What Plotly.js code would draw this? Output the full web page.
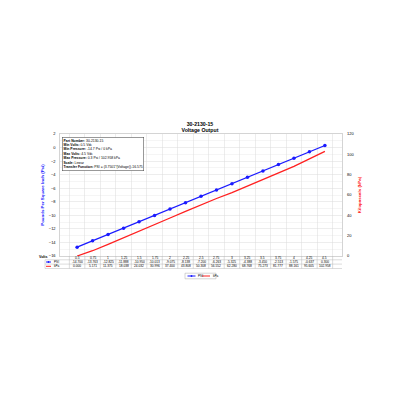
<!DOCTYPE html>
<html>
<head>
<meta charset="utf-8">
<script src="https://cdn.plot.ly/plotly-3.0.1.min.js"></script>
<style>
  html, body { margin: 0; padding: 0; background: #fff; }
  #chart { width: 400px; height: 400px; }
</style>
</head>
<body>
<div id="chart"></div>
<script>
// Data
var volts = ['0.5', '0.75', '1', '1.25', '1.5', '1.75', '2', '2.25', '2.5', '2.75', '3', '3.25', '3.5', '3.75', '4', '4.25', '4.5'];
var psi = [-14.700, -13.763, -12.825, -11.888, -10.950, -10.013, -9.075, -8.138, -7.200, -6.263, -5.325, -4.388, -3.450, -2.513, -1.575, -0.637, 0.300];
var kpa = [0.000, 5.171, 11.375, 18.038, 24.032, 30.996, 37.400, 43.808, 50.308, 56.552, 62.280, 68.768, 75.273, 81.777, 88.161, 95.605, 102.958];
var seriesNames = ['PSI', 'kPa'];
var infoLines = [
  ['Part Number', '30-2130-15'],
  ['Min Volts', '0.5 Vdc'],
  ['Min Pressure', '-14.7 Psi / 0 kPa'],
  ['Max Volts', '4.5 Vdc'],
  ['Max Pressure', '0.3 Psi / 102.958 kPa'],
  ['Scale', 'Linear'],
  ['Transfer Function', 'PSI = (3.7501*(Voltage))-16.575']
];

var FONT = 'Liberation Sans, Arial, sans-serif';
var BLUE = '#1a1aff';
var RED = '#ff2020';
var GRID = '#dcdcdc';
var TBL = '#b8b8b8';

// plot box in pixels
var W = 400, H = 400;
var L = 60, R = 58, T = 134, B = 144;
var plotW = W - L - R, plotH = H - T - B;
function px(x) { return (x - L) / plotW; }      // pixel -> paper x
function py(y) { return (H - B - y) / plotH; }  // pixel -> paper y

var traces = [
  {
    x: volts, y: psi, name: seriesNames[0], type: 'scatter', mode: 'lines+markers',
    line: {color: BLUE, width: 1.3},
    marker: {color: BLUE, size: 3.5, symbol: 'circle'},
    yaxis: 'y'
  },
  {
    x: volts, y: kpa, name: seriesNames[1], type: 'scatter', mode: 'lines',
    line: {color: RED, width: 1.3},
    yaxis: 'y2'
  }
];

var annotations = [];
var shapes = [];

function line(x0, y0, x1, y1, color, width) {
  shapes.push({type: 'line', xref: 'paper', yref: 'paper', x0: px(x0), x1: px(x1),
    y0: py(y0), y1: py(y1), line: {color: color, width: width}});
}
function dot(x, y, color) {
  shapes.push({type: 'circle', xref: 'paper', yref: 'paper', x0: px(x - 0.9), x1: px(x + 0.9),
    y0: py(y - 0.9), y1: py(y + 0.9), fillcolor: color, line: {width: 0}});
}
function label(x, y, text, size, anchor) {
  annotations.push({xref: 'paper', yref: 'paper', x: px(x), y: py(y), xanchor: anchor || 'left',
    yanchor: 'middle', showarrow: false, text: text, font: {family: FONT, size: size, color: '#000'}});
}

// info box
var infoText = infoLines.map(function (p) { return '<b>' + p[0] + ':</b> ' + p[1]; }).join('<br>');
annotations.push({
  xref: 'paper', yref: 'paper', x: px(61.5), y: py(136.5),
  xanchor: 'left', yanchor: 'top', align: 'left', showarrow: false,
  text: infoText, font: {family: FONT, size: 3.4, color: '#000'},
  bgcolor: '#fff', bordercolor: '#555', borderwidth: 0.6, borderpad: 1
});

// data table rows under the plot
var rowY = [257.8, 262.0, 266.3];
var rowLines = [259.8, 264.1, 268.5];
var tableLeft = 45;

for (var i = 0; i < volts.length; i++) {
  [volts[i], psi[i].toFixed(3), kpa[i].toFixed(3)].forEach(function (t, r) {
    annotations.push({xref: 'x', yref: 'paper', x: i, y: py(rowY[r]), text: t, showarrow: false,
      font: {family: FONT, size: 3.2, color: '#000'}, yanchor: 'middle'});
  });
}
for (var j = 0; j <= volts.length; j++) {
  shapes.push({type: 'line', xref: 'x', yref: 'paper', x0: j - 0.5, x1: j - 0.5,
    y0: 0, y1: py(rowLines[2]), line: {color: TBL, width: 0.5}});
}
rowLines.forEach(function (y) { line(tableLeft, y, W - R, y, TBL, 0.5); });
line(tableLeft, rowLines[0], tableLeft, rowLines[2], TBL, 0.5);

// row labels
label(50, rowY[0] - 0.6, '<b>Volts</b>', 3.6, 'right');
[[rowY[1], BLUE, seriesNames[0], true], [rowY[2], RED, seriesNames[1], false]].forEach(function (r) {
  line(46, r[0], 51, r[0], r[1], 1);
  if (r[3]) dot(48.5, r[0], r[1]);
  label(51.8, r[0], r[2], 3.1);
});

// legend below the table
var legY = 276;
shapes.push({type: 'rect', xref: 'paper', yref: 'paper', x0: px(185), x1: px(216),
  y0: py(legY - 2.8), y1: py(legY + 2.8), line: {color: '#aaa', width: 0.5}, fillcolor: 'rgba(0,0,0,0)'});
line(187.5, legY, 195.5, legY, BLUE, 1);
dot(191.5, legY, BLUE);
label(196.3, legY, seriesNames[0], 3.1);
line(202, legY, 210, legY, RED, 1);
label(210.8, legY, seriesNames[1], 3.1);

var layout = {
  width: W, height: H,
  margin: {l: L, r: R, t: T, b: B, pad: 0},
  paper_bgcolor: '#fff', plot_bgcolor: '#fff',
  font: {family: FONT, size: 4.2, color: '#000'},
  title: {
    text: '<b>30-2130-15</b><br><b>Voltage Output</b>',
    font: {family: FONT, size: 5.2, color: '#000'},
    x: 0.5, xanchor: 'center', y: 1 - 125.5 / H, yanchor: 'middle', yref: 'container'
  },
  showlegend: false,
  xaxis: {
    type: 'category', showticklabels: false, ticks: '',
    tickson: 'boundaries', showgrid: true, gridcolor: GRID, gridwidth: 0.5,
    showline: true, linecolor: TBL, linewidth: 0.6, mirror: true,
    zeroline: false, fixedrange: true
  },
  yaxis: {
    range: [-16, 2], dtick: 2, tick0: 0, showgrid: true, gridcolor: GRID, gridwidth: 0.5,
    minor: {dtick: 1, showgrid: true, gridcolor: '#ececec', gridwidth: 0.5},
    zeroline: false, showline: true, linecolor: TBL, linewidth: 0.6, mirror: true,
    ticks: '', ticklabelstandoff: 3,
    tickfont: {family: FONT, size: 4, color: '#000'},
    title: {text: '<b>Pounds Per Square Inch (Psi)</b>', font: {family: FONT, size: 4.4, color: BLUE}, standoff: 4}
  },
  yaxis2: {
    overlaying: 'y', side: 'right', range: [0, 120], dtick: 20, showgrid: false, zeroline: false,
    ticks: '', ticklabelstandoff: 4,
    tickfont: {family: FONT, size: 4, color: '#000'},
    title: {text: '<b>Kilopascals (kPa)</b>', font: {family: FONT, size: 4.4, color: RED}, standoff: 4}
  },
  annotations: annotations,
  shapes: shapes
};

Plotly.newPlot('chart', traces, layout, {displayModeBar: false, staticPlot: true});
</script>
</body>
</html>
